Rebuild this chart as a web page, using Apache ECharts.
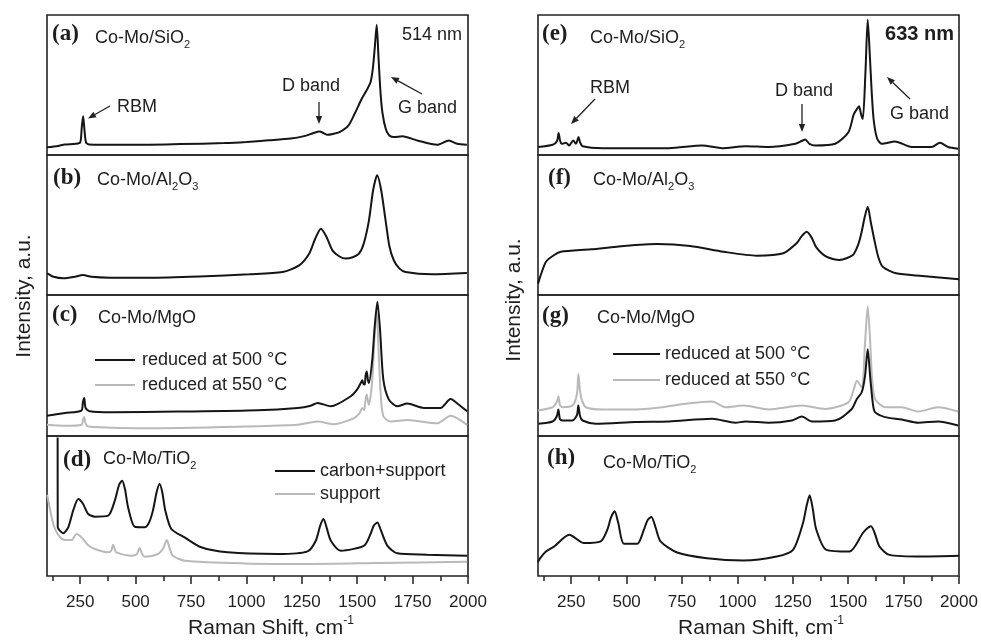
<!DOCTYPE html>
<html><head><meta charset="utf-8">
<script src="https://cdn.jsdelivr.net/npm/echarts@6/dist/echarts.min.js"></script>
<style>html,body{margin:0;padding:0;background:#fff}#c{width:981px;height:641px}</style>
</head><body><div id="c"></div>
<script>
// ---------- data (x: Raman shift cm-1, y: relative intensity 0-100 within each panel) ----------
const aX = [100,150,180,230,250,257,263,269,276,290,350,500,700,900,1000,1100,1200,1260,1300,1330,1350,1365,1390,1420,1460,1490,1520,1545,1560,1570,1580,1588,1596,1605,1614,1630,1645,1666,1704,1771,1861,1914,1951,1995];
const aY = [5.5,6.5,7.5,8,9,20,27.7,18,9,7.5,7.3,7.3,7.8,8.5,9.3,10.5,11.8,13.5,15.5,16.8,15.5,14.4,15,16.3,21,30,40,47,52,61,78,93,70,45,30,18,14,12.8,13.4,10.4,7.3,10.4,8,7.3];

const bX = [101,130,173,220,263,300,383,563,788,1013,1163,1238,1283,1310,1336,1360,1388,1420,1448,1480,1508,1530,1553,1572,1590,1608,1628,1645,1665,1690,1718,1838,1995];
const bY = [15.5,13,11.9,12.8,14.3,13,12.4,12.4,13.3,14.8,16.4,21.2,29.5,40,47.4,42,31.9,27.5,26,27,29.5,37,53.3,75,85.5,75,53.3,35,24.8,19,16.4,14.8,15.7];

const c500X = [100,181,255,262,268,274,293,391,691,1051,1231,1290,1321,1381,1471,1500,1516,1523,1528,1534,1538,1543,1548,1553,1568,1579,1591,1603,1618,1643,1681,1726,1801,1876,1921,1959,1996];
const c500Y = [14.4,16.3,18,24,26.9,20,17.5,16.8,17.3,18.2,19.9,21.5,23.4,21.1,28.2,33,37.6,39.5,37,36.5,43,45.8,40,37.6,54.2,77.8,95.3,75.4,39.9,25.8,21.1,23,19.9,19.9,26.2,22.2,17.5];
const c550X = [100,181,256,263,268,274,286,541,991,1231,1321,1396,1486,1510,1523,1531,1538,1543,1548,1553,1568,1578,1588,1598,1606,1618,1651,1726,1861,1921,1996];
const c550Y = [7.9,7.2,8,12,13.4,9,6.7,5.5,6.7,7.9,10.2,8.4,12.7,16,19.9,18.4,26,29.5,25,22.2,39.9,70,88,55,30,14,10.2,11.3,9,14.4,7.9];

const dCarbonX = [148,148.5,158,173,196,218,241,263,286,316,376,406,425,439,452,466,496,541,560,578,595,608,620,634,661,721,796,916,1141,1276,1313,1333,1348,1363,1381,1426,1531,1560,1575,1591,1606,1636,1681,1816,1996];
const dCarbonY = [99,34.8,32.4,30.5,34.8,46.7,55,51.4,44.3,42.4,43.1,53.8,65,68.1,62,49,35.2,34.8,38,46.7,60,65.7,60,46.7,33.6,27.6,20.5,16.9,15.7,17.6,25.2,36,40.7,34,25.2,18.1,21.7,30,36,38.3,33,21.7,16.2,15.2,14.5];
const dSupportX = [101,121,136,158,181,211,233,256,286,316,376,390,398,406,413,481,505,518,530,541,601,625,641,655,668,721,991,1291,1591,1996];
const dSupportY = [58,42,33.6,28,25.7,25.7,30,27.6,22,19.3,16.9,18,22.4,19,16.9,14.5,15.5,20,15.5,13.8,15.7,20,25.7,19,14.5,10.9,9,8.6,9.3,10.2];

const eX = [100,166,186,193,200,208,226,241,259,271,277,283,290,301,391,691,841,931,1036,1141,1261,1290,1306,1325,1351,1441,1501,1525,1540,1549,1558,1566,1578,1588,1598,1606,1615,1630,1651,1711,1786,1876,1914,1951,1996];
const eY = [5.7,7.3,10,15.8,10,8,8.7,6.8,10.4,8,10,12.8,9,6.3,4.9,4.9,6.8,4.9,6.3,5.7,8,10,11.1,8,6.8,8,16.3,29,33,34.8,29,25.8,60,96.7,70,45,25,12,8,9.7,5.7,5.7,8.7,5.7,4.5];

const fX = [100,110,136,173,203,338,488,638,787,937,1087,1207,1267,1290,1312,1335,1356,1401,1461,1521,1545,1559,1575,1588,1602,1618,1636,1656,1716,1835,2000];
const fY = [8,13.1,23.8,28.6,30.9,32.6,35,36.4,35,30.9,28.1,29.8,36.9,42,45.2,41,34,27.4,25,28.6,36,44,56,63.1,52,39.3,27,20.2,15.5,13.6,11.2];

const g500X = [100,166,185,192,199,211,256,276,282,290,301,361,541,691,886,991,1036,1141,1246,1291,1336,1441,1516,1539,1561,1576,1588,1600,1612,1621,1666,1741,1816,1906,1996];
const g500Y = [8.7,10.3,14,18.8,12,11,11,15,21.6,14,11,8.7,9.9,10.3,12.2,9.4,10.3,9.4,11,13.8,10.3,11,19.2,26.3,31,42.7,61.5,40.4,22,16.9,13.4,11.7,9.4,10.3,7.5];
const g550X = [100,166,185,192,199,211,256,276,282,289,297,316,391,541,661,766,886,946,1028,1141,1291,1396,1501,1525,1539,1561,1576,1588,1598,1608,1621,1666,1741,1816,1906,1996];
const g550Y = [18.1,20.4,24,28.2,22,20.4,21.6,30,43.9,33,26,20.4,18.8,18.8,20.4,22.8,24.4,20.4,21.6,18.8,21.6,19.2,23.9,33,39.2,34.5,66.2,92,70,40,26.3,20.4,20.4,17.4,20.4,17.4];

const hX = [100,110,136,173,241,308,383,413,430,446,462,488,548,578,595,612,630,653,728,862,1027,1177,1251,1296,1312,1326,1340,1356,1401,1506,1566,1585,1603,1621,1641,1686,1836,2000];
const hY = [10,12.7,17.5,21.1,29.5,23.5,24.7,33.1,42,46.3,38,23,23,33.1,40,42.2,35,24.7,16.8,12.7,11,13.9,18.7,37.9,50,57.6,48,33.1,18.7,17.5,30.7,34,35.5,30,21.1,15.1,13.9,14.4];

const majorTicks = [250,500,750,1000,1250,1500,1750,2000];
const minorTicks = [125,375,625,875,1125,1375,1625,1875];
const tickLabels = [250,500,750,1000,1250,1500,1750,2000];

// ---------- layout ----------
const colLeft = [47, 538];
const colWidth = 421;
const rowTop = [15, 155, 295, 436];
const rowH = [140, 140, 141, 140];
const BLACK = '#151515', GRAY = '#b9b9b9', TXT = '#1e1e1e';
const SANS = 'Liberation Sans, Arial, sans-serif';
const SERIF = 'Liberation Serif, Times New Roman, serif';

const grids = [], xAxes = [], yAxes = [];
for (let c = 0; c < 2; c++) {
  for (let r = 0; r < 4; r++) {
    grids.push({left: colLeft[c], width: colWidth, top: rowTop[r], height: rowH[r],
      containLabel: false, outerBoundsMode: 'none',
      show: true, borderColor: '#222', borderWidth: 1.6, backgroundColor: 'transparent'});
    const idx = grids.length - 1;
    const bottom = r === 3;
    xAxes.push({gridIndex: idx, type: 'value', min: 100, max: 2000, position: 'bottom',
      axisLine: {show: false}, splitLine: {show: false},
      axisTick: {show: bottom, customValues: majorTicks, length: 8, lineStyle: {color: '#222', width: 1.5}},
      axisLabel: {show: bottom, customValues: tickLabels, margin: 18, fontSize: 17, color: TXT, fontFamily: SANS,
        formatter: v => String(v)}});
    yAxes.push({gridIndex: idx, type: 'value', min: 0, max: 100, show: false});
  }
}
// minor tick axes for bottom panels
[3, 7].forEach(gi => {
  xAxes.push({gridIndex: gi, type: 'value', min: 100, max: 2000, position: 'bottom',
    axisLine: {show: false}, splitLine: {show: false}, axisLabel: {show: false},
    axisTick: {show: true, customValues: minorTicks, length: 5, lineStyle: {color: '#222', width: 1.5}}});
});

function zip(xs, ys) { return xs.map((x, i) => [x, ys[i]]); }
function line(gi, xs, ys, color, z) {
  return {type: 'line', xAxisIndex: gi, yAxisIndex: gi, data: zip(xs, ys), symbol: 'none',
    smooth: 0.25, lineStyle: {color: color, width: 2}, z: z, animation: false, silent: true};
}
const series = [
  line(0, aX, aY, BLACK, 3),
  line(1, bX, bY, BLACK, 3),
  line(2, c550X, c550Y, GRAY, 2),
  line(2, c500X, c500Y, BLACK, 3),
  line(3, dSupportX, dSupportY, GRAY, 2),
  line(3, dCarbonX, dCarbonY, BLACK, 3),
  line(4, eX, eY, BLACK, 3),
  line(5, fX, fY, BLACK, 3),
  line(6, g550X, g550Y, GRAY, 2),
  line(6, g500X, g500Y, BLACK, 3),
  line(7, hX, hY, BLACK, 3)
];

// ---------- annotations ----------
const G = [];
function txt(x, y, text, opt) {
  opt = opt || {};
  G.push({type: 'text', x: x, y: y, rotation: opt.rot || 0, z: 10,
    style: {text: text, fontSize: opt.size || 18, fontFamily: opt.family || SANS,
      fontWeight: opt.weight || 'normal', fill: TXT, align: opt.align || 'left', verticalAlign: 'middle',
      rich: opt.rich}});
}
const subRich = {
  m: {fontSize: 18, fontFamily: SANS, fill: TXT, lineHeight: 24, verticalAlign: 'middle'},
  s: {fontSize: 11, fontFamily: SANS, fill: TXT, lineHeight: 8, verticalAlign: 'bottom'},
  u: {fontSize: 12, fontFamily: SANS, fill: TXT, lineHeight: 8, verticalAlign: 'top'},
  t: {fontSize: 21, fontFamily: SANS, fill: TXT, lineHeight: 26, verticalAlign: 'middle'}
};
function letter(x, y, t) { txt(x, y, t, {size: 23, family: SERIF, weight: 'bold'}); }
function arrow(x1, y1, x2, y2) {
  const ang = Math.atan2(y2 - y1, x2 - x1), L = 8, W = 3.2;
  const bx = x2 - L * Math.cos(ang), by = y2 - L * Math.sin(ang);
  const nx = -Math.sin(ang), ny = Math.cos(ang);
  G.push({type: 'line', z: 10, shape: {x1: x1, y1: y1, x2: bx, y2: by}, style: {stroke: '#222', lineWidth: 1.3}});
  G.push({type: 'polygon', z: 10, shape: {points: [[x2, y2], [bx + nx * W, by + ny * W], [bx - nx * W, by - ny * W]]}, style: {fill: '#222'}});
}
function legLine(x1, x2, y, color) {
  G.push({type: 'line', z: 10, shape: {x1: x1, y1: y, x2: x2, y2: y}, style: {stroke: color, lineWidth: 2}});
}

// left column
letter(52, 34, '(a)');
txt(95, 38, '{m|Co-Mo/SiO}{s|2}', {rich: subRich});
txt(462, 35, '514 nm', {align: 'right'});
txt(117, 107, 'RBM'); arrow(110, 106, 88, 118.5);
txt(282, 86, 'D band'); arrow(319, 102, 319, 124);
txt(398, 108, 'G band'); arrow(422, 94, 391, 77);
letter(53, 178, '(b)');
txt(97, 180, '{m|Co-Mo/Al}{s|2}{m|O}{s|3}', {rich: subRich});
letter(52, 315, '(c)');
txt(98, 318, 'Co-Mo/MgO');
legLine(95, 135, 360, BLACK); txt(142, 360, 'reduced at 500 \u00B0C');
legLine(95, 135, 385, GRAY); txt(142, 385, 'reduced at 550 \u00B0C');
letter(63, 460, '(d)');
txt(103, 459, '{m|Co-Mo/TiO}{s|2}', {rich: subRich});
legLine(275, 315, 471, BLACK); txt(320, 471, 'carbon+support');
legLine(275, 315, 494, GRAY); txt(320, 494, 'support');

// right column
letter(542, 34, '(e)');
txt(590, 38, '{m|Co-Mo/SiO}{s|2}', {rich: subRich});
txt(954, 34, '633 nm', {align: 'right', weight: 'bold', size: 20});
txt(590, 88, 'RBM'); arrow(595, 99, 571, 124);
txt(775, 91, 'D band'); arrow(802, 104, 802, 132);
txt(890, 114, 'G band'); arrow(910, 99, 887, 77);
letter(548, 178, '(f)');
txt(593, 180, '{m|Co-Mo/Al}{s|2}{m|O}{s|3}', {rich: subRich});
letter(542, 316, '(g)');
txt(597, 318, 'Co-Mo/MgO');
legLine(613, 660, 354, BLACK); txt(665, 354, 'reduced at 500 \u00B0C');
legLine(613, 660, 380, GRAY); txt(665, 380, 'reduced at 550 \u00B0C');
letter(547, 458, '(h)');
txt(603, 463, '{m|Co-Mo/TiO}{s|2}', {rich: subRich});

// axis titles
txt(271, 628, '{t|Raman Shift, cm}{u|-1}', {align: 'center', rich: subRich});
txt(761, 628, '{t|Raman Shift, cm}{u|-1}', {align: 'center', rich: subRich});
txt(24, 296, 'Intensity, a.u.', {align: 'center', size: 21, rot: Math.PI / 2});
txt(514, 300, 'Intensity, a.u.', {align: 'center', size: 21, rot: Math.PI / 2});

const chart = echarts.init(document.getElementById('c'), null, {renderer: 'canvas'});
chart.setOption({
  animation: false,
  backgroundColor: '#fff',
  grid: grids, xAxis: xAxes, yAxis: yAxes, series: series, graphic: G
});
</script></body></html>
